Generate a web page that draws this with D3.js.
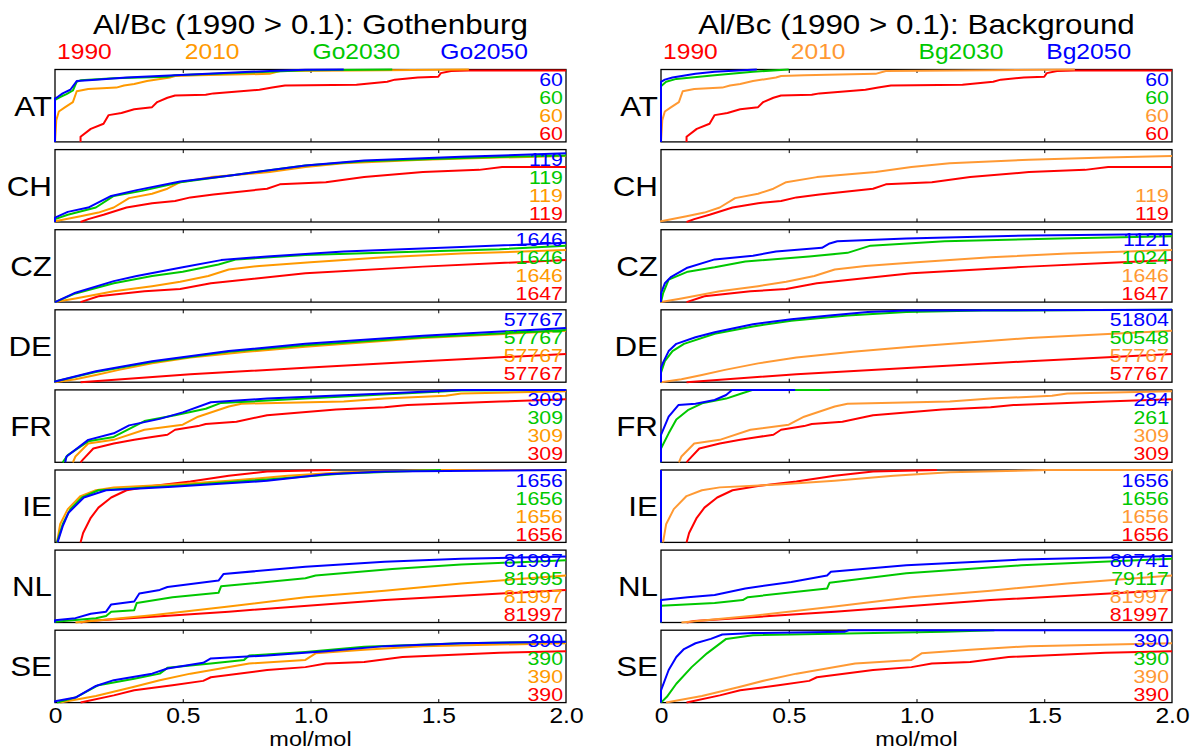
<!DOCTYPE html>
<html>
<head>
<meta charset="utf-8">
<script src="https://cdn.jsdelivr.net/npm/d3@7"></script>
<style>
  body { margin: 0; background: #fff; }
  text { font-family: "Liberation Sans", Arial, Helvetica, sans-serif; }
</style>
</head>
<body>
<svg id="chart" width="1199" height="754"></svg>
<script>
// Cumulative distributions of Al/Bc (mol/mol) per country, sites with 1990 Al/Bc > 0.1.
// Each curve is a list of [Al/Bc, cumulative fraction of sites].
const countries = ["AT", "CH", "CZ", "DE", "FR", "IE", "NL", "SE"];
const legendGothenburg = ["1990", "2010", "Go2030", "Go2050"];
const legendBackground = ["1990", "2010", "Bg2030", "Bg2050"];
const xTicks = [0, 0.5, 1.0, 1.5, 2.0];

const cdf1990 = [
  [[0.10,0],[0.10,0.07],[0.14,0.18],[0.19,0.25],[0.21,0.37],[0.26,0.40],[0.31,0.45],[0.38,0.48],[0.40,0.55],[0.44,0.61],[0.47,0.64],[0.59,0.65],[0.62,0.67],[0.80,0.72],[0.85,0.75],[0.90,0.78],[1.18,0.79],[1.30,0.83],[1.33,0.86],[1.42,0.89],[1.50,0.90],[1.51,0.95],[1.55,0.98],[1.62,0.985],[2.0,0.985]],
  [[0.10,0],[0.13,0.04],[0.19,0.10],[0.28,0.20],[0.38,0.26],[0.47,0.29],[0.53,0.34],[0.62,0.38],[0.83,0.46],[0.88,0.52],[1.06,0.55],[1.21,0.62],[1.44,0.69],[1.66,0.72],[1.75,0.76],[2.0,0.76]],
  [[0.10,0],[0.17,0.08],[0.35,0.15],[0.49,0.18],[0.61,0.26],[0.98,0.40],[1.44,0.49],[1.74,0.54],[2.0,0.58]],
  [[0.10,0],[0.53,0.11],[0.98,0.20],[1.44,0.29],[2.0,0.39]],
  [[0.10,0],[0.11,0.04],[0.15,0.19],[0.23,0.26],[0.31,0.31],[0.38,0.35],[0.44,0.38],[0.47,0.45],[0.56,0.50],[0.59,0.53],[0.71,0.56],[0.83,0.65],[1.10,0.73],[1.29,0.76],[1.38,0.79],[1.74,0.84],[2.0,0.87]],
  [[0.10,0],[0.11,0.13],[0.14,0.34],[0.17,0.48],[0.22,0.62],[0.28,0.72],[0.38,0.78],[0.53,0.84],[0.68,0.92],[0.83,0.98],[1.08,1.0]],
  [[0.10,0],[0.13,0.02],[0.68,0.15],[1.29,0.31],[2.0,0.45]],
  [[0.10,0],[0.23,0.10],[0.31,0.17],[0.46,0.24],[0.58,0.30],[0.61,0.35],[0.83,0.45],[0.98,0.49],[1.06,0.54],[1.21,0.56],[1.36,0.63],[1.74,0.69],[2.0,0.71]]
];

const cdf2010 = [
  [[0,0],[0.005,0.30],[0.015,0.42],[0.04,0.48],[0.07,0.55],[0.085,0.70],[0.13,0.73],[0.24,0.75],[0.27,0.78],[0.31,0.80],[0.36,0.84],[0.45,0.89],[0.47,0.91],[0.56,0.92],[0.84,0.94],[0.88,0.98],[1.29,0.99],[1.62,1.0]],
  [[0,0],[0,0.01],[0.10,0.08],[0.17,0.13],[0.23,0.20],[0.29,0.33],[0.38,0.39],[0.44,0.46],[0.49,0.55],[0.61,0.62],[0.84,0.69],[0.98,0.76],[1.13,0.81],[1.44,0.86],[1.74,0.89],[2.0,0.91]],
  [[0,0],[0.08,0.05],[0.23,0.15],[0.38,0.22],[0.49,0.28],[0.60,0.36],[0.68,0.45],[0.80,0.50],[1.0,0.55],[1.29,0.62],[1.59,0.67],[2.0,0.72]],
  [[0,0],[0.08,0.04],[0.16,0.10],[0.25,0.17],[0.38,0.26],[0.53,0.34],[0.75,0.42],[0.98,0.49],[1.44,0.61],[2.0,0.71]],
  [[0.07,0],[0.08,0.08],[0.13,0.26],[0.23,0.31],[0.35,0.45],[0.50,0.52],[0.56,0.63],[0.68,0.77],[0.73,0.81],[1.13,0.84],[1.29,0.88],[1.53,0.92],[1.59,0.95],[2.0,0.98]],
  [[0.008,0],[0.02,0.25],[0.05,0.46],[0.10,0.64],[0.16,0.72],[0.23,0.76],[0.46,0.80],[0.68,0.85],[0.91,0.92],[1.13,0.97],[1.51,1.0],[2.0,1.0]],
  [[0.08,0],[0.38,0.10],[0.68,0.22],[0.98,0.35],[1.29,0.44],[1.59,0.54],[2.0,0.65]],
  [[0.02,0],[0.16,0.09],[0.31,0.22],[0.41,0.31],[0.53,0.40],[0.76,0.54],[0.98,0.59],[1.02,0.68],[1.21,0.73],[1.44,0.78],[2.0,0.82]]
];

const cdfGo2030 = [
  [[0,0],[0,0.58],[0.02,0.62],[0.045,0.66],[0.07,0.71],[0.085,0.83],[0.10,0.85],[0.23,0.88],[0.44,0.90],[0.47,0.92],[0.84,0.97],[0.98,0.99],[1.32,1.0]],
  [[0,0],[0,0.04],[0.05,0.10],[0.16,0.20],[0.23,0.36],[0.34,0.43],[0.49,0.55],[0.68,0.64],[0.98,0.78],[1.21,0.84],[1.66,0.89],[2.0,0.92]],
  [[0,0],[0.08,0.12],[0.23,0.26],[0.38,0.36],[0.50,0.42],[0.64,0.52],[0.71,0.59],[0.98,0.65],[1.44,0.70],[1.74,0.73],[2.0,0.78]],
  [[0,0],[0,0.01],[0.16,0.14],[0.38,0.28],[0.68,0.42],[0.98,0.51],[1.44,0.62],[2.0,0.72]],
  [[0.03,0],[0.05,0.10],[0.13,0.29],[0.23,0.35],[0.35,0.57],[0.47,0.65],[0.59,0.74],[0.65,0.82],[0.98,0.88],[1.36,0.95],[1.59,0.99],[2.0,1.0]],
  [[0.008,0],[0.03,0.25],[0.06,0.46],[0.105,0.62],[0.17,0.72],[0.46,0.78],[0.83,0.87],[1.13,0.95],[1.51,1.0]],
  [[0,0],[0,0.01],[0.16,0.06],[0.20,0.09],[0.22,0.15],[0.31,0.17],[0.32,0.27],[0.46,0.35],[0.64,0.41],[0.65,0.50],[0.98,0.61],[1.02,0.65],[1.32,0.74],[1.59,0.80],[2.0,0.86]],
  [[0.008,0],[0.08,0.07],[0.17,0.24],[0.31,0.33],[0.41,0.40],[0.44,0.48],[0.61,0.54],[0.74,0.59],[0.76,0.65],[0.98,0.70],[1.21,0.77],[1.59,0.82],[2.0,0.84]]
];

const cdfGo2050 = [
  [[0,0],[0,0.60],[0.01,0.62],[0.03,0.67],[0.06,0.72],[0.085,0.84],[0.16,0.86],[0.28,0.89],[0.47,0.92],[0.84,0.98],[0.98,0.995],[1.13,1.0]],
  [[0,0],[0,0.06],[0.05,0.14],[0.13,0.20],[0.22,0.36],[0.32,0.44],[0.49,0.56],[0.68,0.64],[0.98,0.78],[1.21,0.85],[1.59,0.90],[2.0,0.95]],
  [[0,0],[0.08,0.13],[0.23,0.29],[0.32,0.36],[0.50,0.48],[0.65,0.58],[0.83,0.63],[1.13,0.70],[1.59,0.76],[2.0,0.82]],
  [[0,0],[0,0.01],[0.16,0.15],[0.38,0.29],[0.68,0.43],[0.98,0.53],[1.44,0.64],[2.0,0.75]],
  [[0.04,0],[0.045,0.08],[0.13,0.31],[0.23,0.40],[0.29,0.51],[0.41,0.60],[0.50,0.69],[0.61,0.83],[0.83,0.88],[1.29,0.95],[1.59,1.0],[2.0,1.0]],
  [[0.01,0],[0.03,0.22],[0.053,0.41],[0.113,0.62],[0.20,0.72],[0.46,0.77],[0.83,0.85],[1.06,0.94],[1.29,0.98],[2.0,1.0]],
  [[0,0],[0,0.03],[0.08,0.06],[0.14,0.12],[0.20,0.15],[0.22,0.25],[0.31,0.29],[0.33,0.40],[0.41,0.45],[0.44,0.49],[0.64,0.58],[0.66,0.67],[0.98,0.77],[1.29,0.84],[1.59,0.88],[2.0,0.91]],
  [[0,0],[0,0.02],[0.08,0.07],[0.16,0.23],[0.23,0.31],[0.38,0.40],[0.44,0.47],[0.58,0.55],[0.61,0.61],[0.83,0.65],[1.06,0.71],[1.29,0.78],[1.59,0.82],[2.0,0.84]]
];

const cdfBg2030 = [
  [[0,0],[0,0.77],[0.02,0.83],[0.06,0.87],[0.21,0.92],[0.36,0.97],[0.50,1.0]],
  [],
  [[0,0],[0.008,0.12],[0.03,0.31],[0.105,0.42],[0.21,0.48],[0.33,0.56],[0.58,0.63],[0.73,0.68],[0.82,0.78],[1.11,0.84],[1.56,0.88],[2.0,0.91]],
  [[0,0],[0,0.13],[0.015,0.29],[0.045,0.43],[0.09,0.53],[0.21,0.67],[0.36,0.77],[0.51,0.85],[0.73,0.92],[0.96,0.97],[1.26,0.99],[2.0,1.0]],
  [[0,0],[0,0.19],[0.03,0.40],[0.06,0.59],[0.105,0.72],[0.165,0.82],[0.255,0.88],[0.315,0.95],[0.36,1.0],[0.66,1.0]],
  [[0,0],[0,1.0]],
  [[0,0],[0,0.23],[0.21,0.27],[0.32,0.31],[0.34,0.35],[0.65,0.47],[0.66,0.55],[0.96,0.68],[1.41,0.79],[2.0,0.88]],
  [[0,0],[0.023,0.08],[0.06,0.26],[0.12,0.49],[0.18,0.68],[0.255,0.88],[0.36,0.93],[1.11,0.98],[1.305,1.0]]
];

const cdfBg2050 = [
  [[0,0],[0,0.83],[0.015,0.86],[0.045,0.89],[0.135,0.94],[0.21,0.97],[0.375,1.0]],
  [],
  [[0,0],[0,0.12],[0.015,0.26],[0.04,0.35],[0.10,0.47],[0.21,0.59],[0.36,0.64],[0.45,0.70],[0.63,0.75],[0.66,0.81],[0.69,0.84],[0.96,0.88],[1.45,0.92],[2.0,0.94]],
  [[0,0],[0,0.20],[0.008,0.27],[0.03,0.43],[0.06,0.53],[0.135,0.62],[0.21,0.69],[0.36,0.80],[0.51,0.87],[0.66,0.92],[0.81,0.97],[0.96,0.99],[2.0,1.0]],
  [[0,0],[0,0.38],[0.03,0.63],[0.068,0.79],[0.135,0.81],[0.21,0.86],[0.255,0.93],[0.278,1.0],[0.525,1.0]],
  [[0,0],[0,1.0]],
  [[0,0],[0,0.31],[0.105,0.35],[0.21,0.38],[0.33,0.47],[0.51,0.56],[0.65,0.65],[0.665,0.70],[0.96,0.79],[1.41,0.87],[2.0,0.92]],
  [[0,0],[0,0.17],[0.03,0.45],[0.06,0.63],[0.09,0.74],[0.135,0.82],[0.195,0.88],[0.24,0.94],[0.36,0.96],[0.72,0.98],[0.735,1.0],[2.0,1.0]]
];

// Number of sites per country, in the order 1990, 2010, 2030, 2050
const countGothenburg = [
  [60,60,60,60],[119,119,119,119],[1647,1646,1646,1646],[57767,57767,57767,57767],
  [309,309,309,309],[1656,1656,1656,1656],[81997,81997,81995,81997],[390,390,390,390]
];
const countBackground = [
  [60,60,60,60],[119,119,null,null],[1647,1646,1024,1121],[57767,57767,50548,51804],
  [309,309,261,284],[1656,1656,1656,1656],[81997,81997,79117,80741],[390,390,390,390]
];

const colorsGothenburg = ["#ff0000", "#ff9900", "#00c800", "#0000ff"];
const colorsBackground = ["#ff0000", "#ff9933", "#00c800", "#0000ff"];

// ---- layout ----
const svg = d3.select("#chart");
const panelTop = 69.5, panelStep = 80.1, panelH = 72.4;
const stretch = 1.12;   // glyphs are drawn slightly wide

const columns = [
  { title: "Al/Bc (1990 > 0.1): Gothenburg", legend: legendGothenburg,
    curves: [cdf1990, cdf2010, cdfGo2030, cdfGo2050], counts: countGothenburg,
    colors: colorsGothenburg, x0: 55, x1: 566 },
  { title: "Al/Bc (1990 > 0.1): Background", legend: legendBackground,
    curves: [cdf1990, cdf2010, cdfBg2030, cdfBg2050], counts: countBackground,
    colors: colorsBackground, x0: 661, x1: 1172 }
];

function label(g, x, y, str, size, anchor, fill, sx) {
  return g.append("text")
    .attr("transform", `translate(${x},${y}) scale(${sx || stretch},1)`)
    .attr("text-anchor", anchor)
    .attr("font-size", size)
    .attr("fill", fill || "#000")
    .text(str);
}

columns.forEach(col => {
  const g = svg.append("g");
  const x = d3.scaleLinear().domain([0, 2]).range([col.x0, col.x1]);

  label(g, (col.x0 + col.x1) / 2, 34, col.title, 28, "middle");
  col.legend.forEach((name, s) => {
    label(g, x(xTicks[s]) + 2, 59, name, 22, "start", col.colors[s]);
  });

  countries.forEach((country, i) => {
    const top = panelTop + i * panelStep;
    const y = d3.scaleLinear().domain([0, 1]).range([top + panelH, top]);
    const pg = g.append("g");

    pg.append("rect")
      .attr("x", col.x0).attr("y", top)
      .attr("width", col.x1 - col.x0).attr("height", panelH)
      .attr("fill", "none").attr("stroke", "#000").attr("stroke-width", 1.3);

    const inner = [0.5, 1.0, 1.5];
    const bottomTicks = pg.append("g").attr("transform", `translate(0,${top + panelH})`)
      .call(d3.axisBottom(x).tickValues(inner).tickSize(-3.5).tickFormat(""));
    const topTicks = pg.append("g").attr("transform", `translate(0,${top})`)
      .call(d3.axisTop(x).tickValues(inner).tickSize(-3.5).tickFormat(""));
    [bottomTicks, topTicks].forEach(a => {
      a.select(".domain").remove();
      a.selectAll("line").attr("stroke", "#000").attr("stroke-width", 1);
    });

    label(pg, col.x0 - 3, top + panelH / 2 + 10, country, 28, "end");

    const line = d3.line().x(d => x(d[0])).y(d => y(d[1]));
    col.curves.forEach((series, s) => {
      const pts = series[i];
      if (!pts || pts.length === 0) return;
      pg.append("path")
        .attr("d", line(pts))
        .attr("fill", "none")
        .attr("stroke", col.colors[s])
        .attr("stroke-width", 2)
        .attr("stroke-linejoin", "round");
    });

    col.counts[i].forEach((n, s) => {
      if (n == null) return;
      label(pg, col.x1 - 3, top + 16.5 + 18 * (3 - s), n, 17.5, "end", col.colors[s], 1.22);
    });

    if (i === countries.length - 1) {
      const ax = pg.append("g").attr("transform", `translate(0,${top + panelH})`)
        .call(d3.axisBottom(x).tickValues(xTicks).tickSize(0)
          .tickFormat(d => d === 0 ? "0" : d3.format(".1f")(d)));
      ax.select(".domain").remove();
      ax.selectAll("text")
        .attr("y", 0).attr("dy", 0)
        .attr("transform", `translate(0,${722.5 - (top + panelH)}) scale(${stretch},1)`)
        .attr("font-size", 22)
        .attr("font-family", '"Liberation Sans", Arial, Helvetica, sans-serif')
        .attr("fill", "#000");
      label(pg, (col.x0 + col.x1) / 2, 746, "mol/mol", 21, "middle");
    }
  });
});
</script>
</body>
</html>
